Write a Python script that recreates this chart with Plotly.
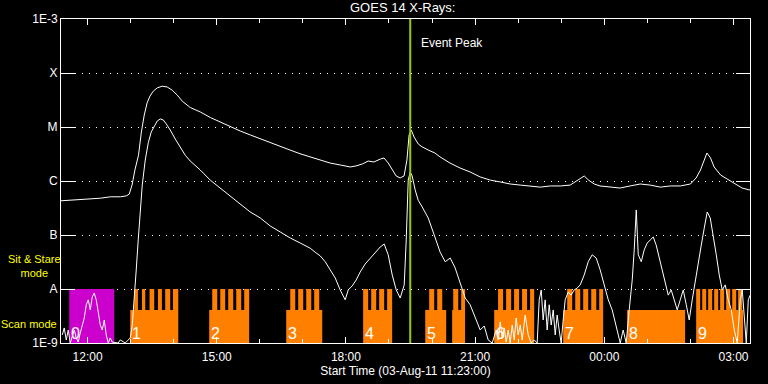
import plotly.graph_objects as go
from datetime import datetime, timedelta

# ---------------- data ----------------
START = datetime(2011, 8, 3, 11, 23)
SPAN_HOURS = 16

# GOES 14 long channel (1-8 A): minutes after start, flux W/m^2
long_t_min = [0, 13, 27, 41, 55, 69, 83, 91, 95, 99, 103, 108, 112, 116, 120, 124, 128.5, 134, 141, 148,
              155, 162, 169, 180, 194, 208, 222, 236, 250, 264, 278, 291.5, 305, 319, 333, 347, 361, 375,
              389, 403, 411, 420, 428, 436, 445, 450, 456, 461.5, 467, 472.5, 478, 482, 485, 488, 492, 498,
              503, 511.5, 521, 528, 542, 556, 570, 584, 598, 612, 626, 640, 654, 668, 682, 696, 709.5, 721,
              729, 735, 743, 751, 765, 779, 793, 807, 821, 835, 849, 863, 877, 885, 891, 896, 900, 905, 910,
              919, 930, 941, 949, 960]
long_flux = [4.3e-7, 4.4e-7, 4.6e-7, 4.6e-7, 4.8e-7, 5.1e-7, 5.1e-7, 5.3e-7, 5.7e-7, 8.4e-7, 1.6e-6,
             3.0e-6, 8.1e-6, 1.67e-5, 2.8e-5, 3.75e-5, 4.6e-5, 5.3e-5, 5.7e-5, 5.5e-5, 4.8e-5, 3.9e-5,
             3.0e-5, 2.3e-5, 1.9e-5, 1.5e-5, 1.24e-5, 1.0e-5, 8.4e-6, 7.1e-6, 6.0e-6, 5.1e-6, 4.3e-6,
             3.75e-6, 3.2e-6, 2.8e-6, 2.45e-6, 2.15e-6, 1.98e-6, 1.82e-6, 1.9e-6, 2.07e-6, 2.34e-6,
             2.25e-6, 2.55e-6, 2.67e-6, 2.15e-6, 1.6e-6, 1.24e-6, 1.14e-6, 1.24e-6, 2.45e-6, 7.1e-6,
             8.8e-6, 6.5e-6, 4.8e-6, 4.3e-6, 3.75e-6, 3.3e-6, 2.8e-6, 2.15e-6, 1.74e-6, 1.47e-6, 1.19e-6,
             1.04e-6, 9.6e-7, 8.8e-7, 8.4e-7, 8.1e-7, 7.7e-7, 8.1e-7, 8.1e-7, 8.4e-7, 1.04e-6, 1.24e-6,
             1.04e-6, 8.8e-7, 8.1e-7, 7.7e-7, 7.4e-7, 8.1e-7, 8.8e-7, 8.4e-7, 7.7e-7, 8.1e-7, 8.1e-7,
             8.8e-7, 1.14e-6, 1.6e-6, 2.45e-6, 3.3e-6, 2.67e-6, 1.82e-6, 1.29e-6, 1.04e-6, 8.4e-7, 7.4e-7,
             6.8e-7]

# GOES 14 short channel (0.5-4 A)
short_t_min = [1.8, 4.5, 7.3, 10.1, 12.9, 15.7, 18.5, 21.3, 24.0, 26.8, 29.6, 32.4, 35.2, 38.0, 40.8,
               43.5, 46.3, 49.1, 51.9, 54.7, 57.5, 60.3, 63.0, 65.8, 68.6, 71.4, 79.7, 82.6, 89.5, 96.5,
               99.3, 102.1, 104.8, 107.6, 110.4, 113.2, 117.4, 121.6, 125.7, 129.9, 134.1, 138.3, 142.5,
               146.6, 152.2, 159.2, 166.2, 173.1, 180.1, 194.0, 207.9, 221.8, 235.7, 249.7, 263.6, 277.6,
               291.5, 305.4, 319.4, 333.3, 347.2, 354.2, 361.2, 368.1, 375.1, 382.1, 389.0, 396.0, 400.2,
               405.7, 411.3, 416.9, 423.8, 430.8, 437.8, 444.8, 450.3, 455.9, 461.5, 467.1, 472.6, 478.2,
               481.0, 483.8, 486.6, 489.3, 493.5, 497.7, 503.3, 511.6, 520.0, 528.3, 535.3, 542.3, 549.2,
               556.2, 563.2, 570.1, 577.1, 584.1, 589.7, 595.2, 600.8, 606.4, 609.2, 612.0, 614.7, 617.5,
               620.3, 623.1, 625.9, 628.7, 631.5, 634.2, 637.0, 639.8, 642.6, 646.8, 651.0, 655.1, 659.3,
               663.5, 666.3, 669.1, 671.8, 674.6, 677.4, 680.2, 683.0, 685.8, 688.6, 691.3, 694.1, 696.9,
               699.7, 702.5, 706.7, 710.8, 715.0, 719.2, 723.4, 729.0, 734.6, 740.1, 745.7, 751.3, 756.9,
               762.5, 768.0, 773.6, 779.2, 783.3, 787.5, 791.7, 795.9, 798.7, 801.5, 804.3, 808.5, 812.6,
               816.8, 821.0, 825.2, 829.3, 833.5, 837.7, 841.9, 846.1, 850.2, 854.4, 858.6, 862.8, 867.0,
               871.2, 875.3, 879.5, 883.7, 887.9, 892.1, 896.3, 900.4, 904.6, 908.8, 913.0, 917.2, 921.3,
               925.5, 929.7, 933.9, 938.1, 942.2, 946.4, 949.2, 952.0, 954.8, 957.6, 960.3]
short_flux = [1.41e-9, 1.9e-9, 1.14e-9, 1.74e-9, 1e-9, 1.35e-9, 1.74e-9, 1.24e-9, 1.04e-9, 1.53e-9,
              2.15e-9, 2.9e-9, 5.1e-9, 6.3e-9, 4.1e-9, 7.1e-9, 8.4e-9, 6.3e-9, 3.75e-9, 2.15e-9, 1.74e-9,
              2.67e-9, 1.41e-9, 1e-9, 1.24e-9, 1.04e-9, 1e-9, 1.14e-9, 1e-9, 1.24e-9, 2.15e-9, 6.3e-9,
              2.25e-8, 8.1e-8, 2.9e-7, 8.4e-7, 2.45e-6, 5.1e-6, 8.1e-6, 1.04e-5, 1.29e-5, 1.41e-5,
              1.35e-5, 1.14e-5, 8.8e-6, 6.0e-6, 4.1e-6, 3.0e-6, 2.34e-6, 1.6e-6, 1.04e-6, 7.4e-7, 5.3e-7,
              3.75e-7, 2.67e-7, 2.07e-7, 1.47e-7, 1.14e-7, 8.8e-8, 7.1e-8, 5.7e-8, 4.8e-8, 4.1e-8, 3.2e-8,
              2.25e-8, 1.6e-8, 9.6e-9, 6.3e-9, 9.6e-9, 1.14e-8, 1.47e-8, 2.07e-8, 2.9e-8, 3.75e-8, 4.8e-8,
              6.0e-8, 6.8e-8, 4.3e-8, 1.82e-8, 9.6e-9, 6.8e-9, 1.19e-8, 8.1e-8, 1.04e-6, 1.47e-6, 1.24e-6,
              6.8e-7, 4.4e-7, 3.3e-7, 2.07e-7, 1.0e-7, 4.8e-8, 3.2e-8, 3.75e-8, 2.45e-8, 1.35e-8, 6.8e-9,
              5.1e-9, 2.9e-9, 1.74e-9, 2.07e-9, 1.14e-9, 1e-9, 1.74e-9, 1.14e-9, 2.45e-9, 1.24e-9, 1.9e-9,
              1.04e-9, 1.74e-9, 1e-9, 2.15e-9, 1.14e-9, 2.9e-9, 1.41e-9, 2.15e-9, 1.14e-9, 3.3e-9,
              1.41e-9, 1e-9, 1.14e-9, 1e-9, 6.3e-9, 9.6e-9, 2.67e-9, 6.3e-9, 1.74e-9, 5.1e-9, 2.15e-9,
              4.1e-9, 1.41e-9, 3.3e-9, 1.74e-9, 1e-9, 2.67e-9, 6.3e-9, 8.8e-9, 7.7e-9, 9.6e-9, 1.04e-8,
              1.19e-8, 1.82e-8, 3.2e-8, 4.3e-8, 3.75e-8, 2.25e-8, 1.19e-8, 6.3e-9, 4.1e-9, 2.15e-9, 1e-9,
              1.74e-9, 1e-9, 4.1e-9, 1.47e-8, 5.3e-8, 2.9e-7, 4.3e-8, 3.2e-8, 5.3e-8, 7.1e-8, 8.1e-8,
              9.2e-8, 6.5e-8, 3.75e-8, 2.25e-8, 1.19e-8, 7.7e-9, 9.6e-9, 6.3e-9, 4.1e-9, 6.3e-9, 9.6e-9,
              5.1e-9, 2.67e-9, 6.3e-9, 1.47e-8, 3.2e-8, 6.5e-8, 1.35e-7, 2.67e-7, 2.07e-7, 1.0e-7, 4.3e-8,
              1.82e-8, 9.6e-9, 1.19e-8, 6.3e-9, 4.1e-9, 1.74e-9, 1e-9, 6.3e-9, 9.6e-9, 2.67e-9, 1e-9,
              6.3e-9, 7.7e-9]

# y-axis levels / labels
level_vals = [1e-9, 1e-8, 1e-7, 1e-6, 1e-5, 1e-4, 1e-3]
level_text = ["1E-9", "A", "B", "C", "M", "X", "1E-3"]

# x-axis tick labels (minutes after start)
xtick_min = [37, 217, 397, 577, 757, 937]
xtick_text = ["12:00", "15:00", "18:00", "21:00", "00:00", "03:00"]

# instrument mode timeline (minutes after start)
sit_stare_start, sit_stare_end, sit_stare_label = 11.5, 74.2, "0"
scan_start = [96.5, 206.5, 313.8, 421.0, 507.5, 545.0, 603.6, 699.7, 788.8, 885.0]
scan_end = [163.4, 262.2, 364.0, 461.4, 536.7, 563.0, 659.3, 755.4, 869.6, 950.4]
scan_label = ["1", "2", "3", "4", "5", "", "6", "7", "8", "9"]
stare_start = [102.1, 112.8, 123.4, 135.1, 145.2, 156.0,
               210.7, 221.9, 233.0, 244.2, 255.3,
               319.4, 330.5, 341.7, 352.8,
               421.0, 432.2, 443.3, 454.4,
               513.0, 524.2, 546.5, 557.6,
               609.0, 620.2, 631.3, 642.4, 653.6,
               705.3, 716.5, 727.6, 738.8, 749.9,
               885.0, 893.4, 901.7, 910.1, 918.4, 926.8, 935.2, 943.5]
stare_end = [107.2, 117.4, 129.9, 140.6, 152.2, 163.4,
             217.7, 228.8, 240.0, 251.1, 262.2,
             326.4, 337.5, 348.7, 359.8,
             428.0, 439.2, 450.3, 461.4,
             520.0, 531.2, 553.5, 563.0,
             616.0, 627.2, 638.3, 649.4, 659.3,
             712.3, 723.5, 734.6, 745.8, 755.4,
             890.6, 899.0, 907.3, 915.7, 924.0, 932.4, 940.8, 949.1]
SCAN_LEVEL = 4.1e-9     # top of the scan-mode band
STARE_LEVEL = 1e-8      # top of the sit & stare band
event_peak_min = 486.6

# ---------------- figure ----------------
def t(m):
    return START + timedelta(minutes=m)

FLOOR = 1e-9
FONT = "Liberation Sans"
ORANGE = "#ff8000"
MAGENTA = "#cc00cc"
GREEN = "#99cc00"

fig = go.Figure()

# sit & stare (magenta) block
fig.add_trace(go.Scatter(
    x=[t(sit_stare_start), t(sit_stare_start), t(sit_stare_end), t(sit_stare_end), t(sit_stare_start)],
    y=[FLOOR, STARE_LEVEL, STARE_LEVEL, FLOOR, FLOOR],
    fill="toself", fillcolor=MAGENTA, mode="lines", line=dict(width=0),
    hoverinfo="skip", showlegend=False))

# scan mode blocks (orange)
bx, by = [], []
for s, e in zip(scan_start, scan_end):
    bx += [t(s), t(s), t(e), t(e), t(s), None]
    by += [FLOOR, SCAN_LEVEL, SCAN_LEVEL, FLOOR, FLOOR, None]
for s, e in zip(stare_start, stare_end):
    bx += [t(s), t(s), t(e), t(e), t(s), None]
    by += [FLOOR, STARE_LEVEL, STARE_LEVEL, FLOOR, FLOOR, None]
fig.add_trace(go.Scatter(x=bx, y=by, fill="toself", fillcolor=ORANGE, mode="lines",
                         line=dict(width=0, color=ORANGE), hoverinfo="skip", showlegend=False))

# flux curves
fig.add_trace(go.Scatter(x=[t(m) for m in long_t_min], y=long_flux, mode="lines",
                         line=dict(color="white", width=1), showlegend=False))
fig.add_trace(go.Scatter(x=[t(m) for m in short_t_min], y=short_flux, mode="lines",
                         line=dict(color="white", width=1), showlegend=False))

# event peak line
fig.add_trace(go.Scatter(x=[t(event_peak_min), t(event_peak_min)], y=[1e-9, 1e-3], mode="lines",
                         line=dict(color=GREEN, width=2), showlegend=False))

annotations = []
# block numbers
for s, lab in [(sit_stare_start, sit_stare_label)] + list(zip(scan_start, scan_label)):
    if lab:
        annotations.append(dict(x=t(s), y=-9, xref="x", yref="y", text=lab, showarrow=False,
                                xanchor="left", yanchor="bottom", xshift=0, yshift=-1,
                                font=dict(family=FONT, size=16, color="white")))
annotations.append(dict(x=t(event_peak_min), y=-3.44, xref="x", yref="y", text="Event Peak",
                        showarrow=False, xanchor="left", yanchor="middle", xshift=9,
                        font=dict(family=FONT, size=12, color="white")))
annotations.append(dict(x=0.495, y=1 + 12 / 324, xref="paper", yref="paper", text="GOES 14 X-Rays:",
                        showarrow=False, xanchor="center", yanchor="middle",
                        font=dict(family=FONT, size=13, color="white")))
for txt, px, py in [("Sit & Stare<br>mode", 34, 265.5), ("Scan mode", 29, 324)]:
    annotations.append(dict(x=(px - 61) / 689, y=(343 - py) / 324, xref="paper", yref="paper",
                            text=txt, showarrow=False, xanchor="center", yanchor="middle",
                            align="center",
                            font=dict(family=FONT, size=11, color="#ffff00")))

fig.update_layout(
    width=768, height=384,
    margin=dict(l=61, r=18, t=19, b=41, autoexpand=False),
    paper_bgcolor="black", plot_bgcolor="black",
    font=dict(family=FONT, size=12, color="white"),
    annotations=annotations,
    xaxis=dict(
        type="date", range=[START, START + timedelta(hours=SPAN_HOURS)],
        showline=True, linecolor="white", linewidth=1, mirror="allticks",
        ticks="inside", ticklen=6, tickcolor="white", tickwidth=1,
        tickvals=[t(m) for m in xtick_min], ticktext=xtick_text,
        tickfont=dict(family=FONT, size=12, color="white"), ticklabelstandoff=3,
        minor=dict(ticks="inside", ticklen=4, tickcolor="white", dtick=3600000,
                   tick0="2011-08-03 12:00", showgrid=False),
        showgrid=False, zeroline=False,
        title=dict(text="Start Time (03-Aug-11 11:23:00)", standoff=0,
                   font=dict(family=FONT, size=12, color="white")),
    ),
    yaxis=dict(
        type="log", range=[-9, -3],
        showline=True, linecolor="white", linewidth=1, mirror="allticks",
        ticks="inside", ticklen=14, tickcolor="white", tickwidth=1,
        tickvals=level_vals, ticktext=level_text,
        tickfont=dict(family=FONT, size=12, color="white"),
        showgrid=True, gridcolor="white", gridwidth=1, griddash="1px,6px",
        zeroline=False,
    ),
)

fig.write_html("out.html", config={"displayModeBar": False},
               post_script="document.body.style.margin='0';document.body.style.background='black';")
